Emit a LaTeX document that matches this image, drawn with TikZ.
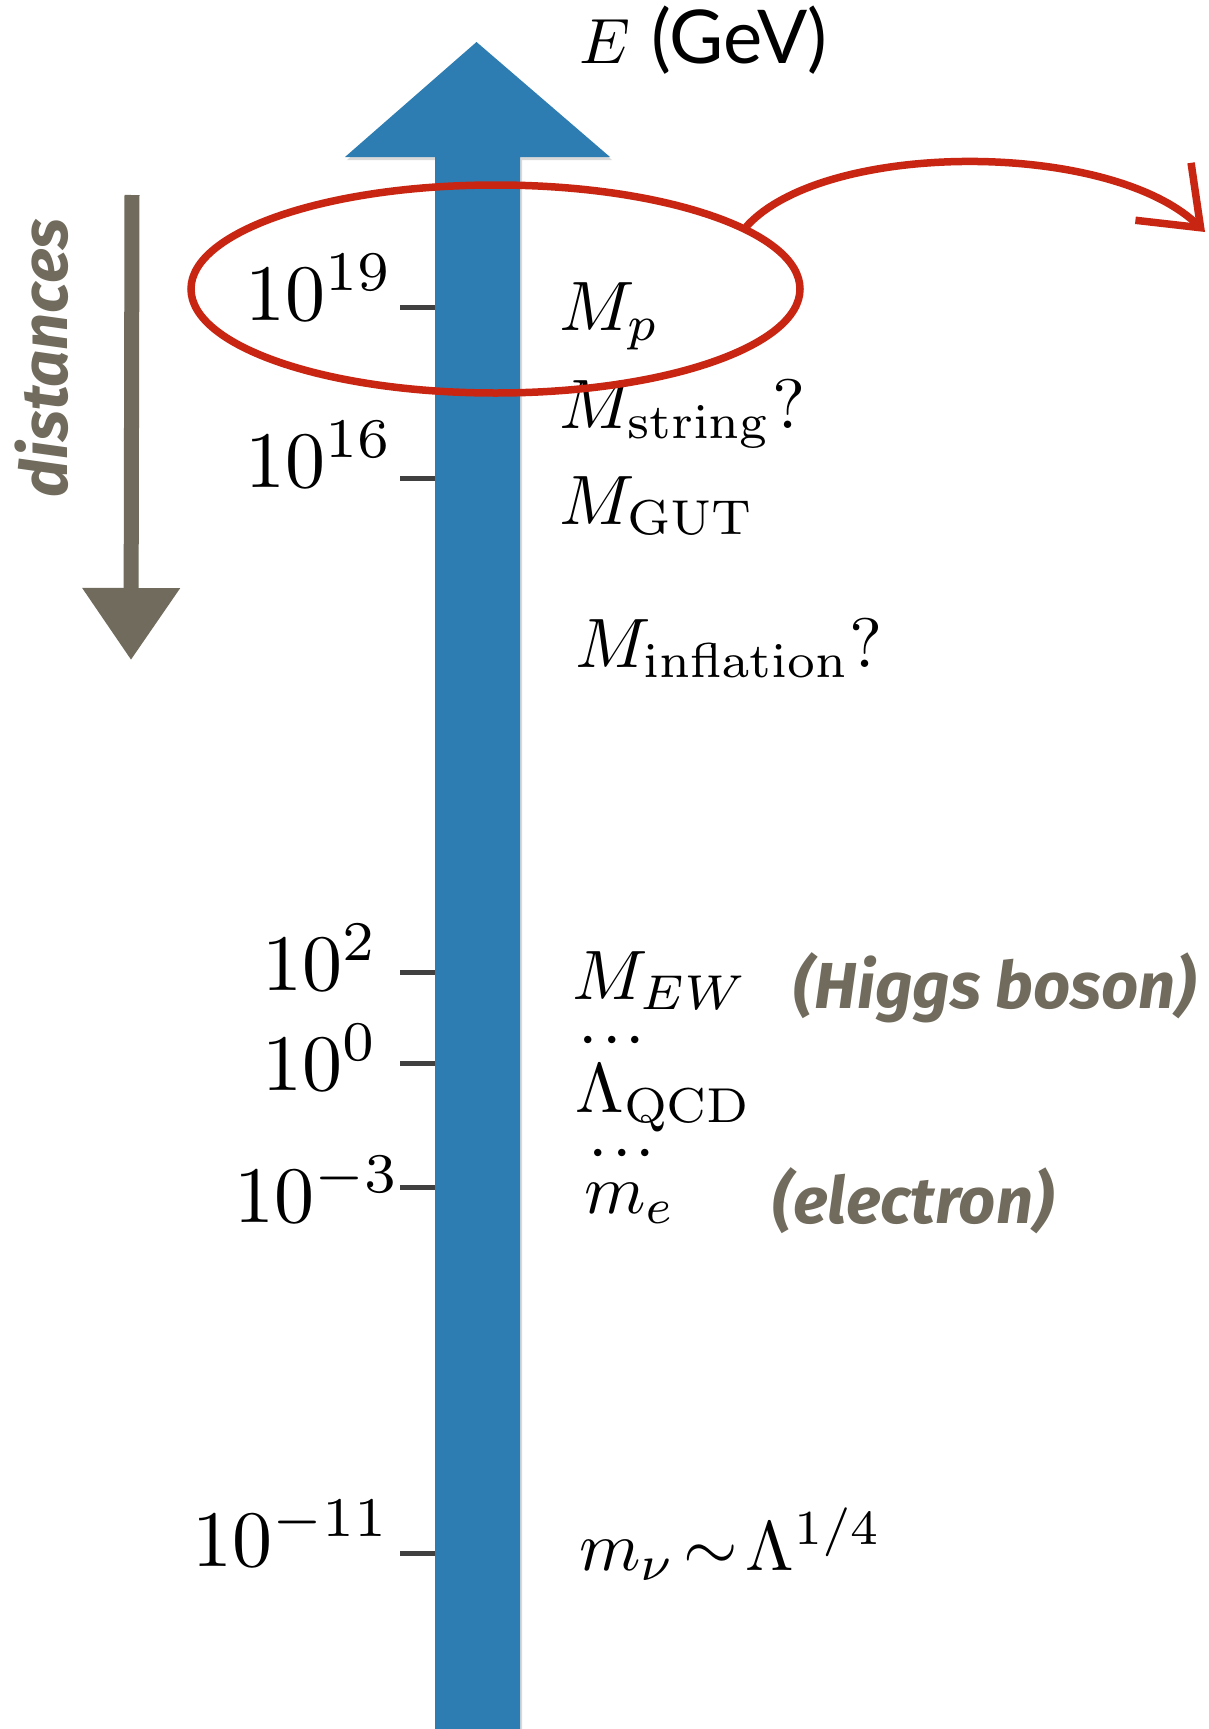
\documentclass[tikz,border=0pt]{standalone}
\usepackage{amsmath,amssymb}
\usepackage[no-math]{fontspec}
\usepackage{xcolor}
\usepackage{tikz}
\usetikzlibrary{arrows.meta,shapes.geometric}

\newfontfamily\handfont{Fira Sans}
\newfontfamily\unitfont{Lato}

\definecolor{axblue}{RGB}{46,125,178}
\definecolor{penred}{RGB}{200,38,18}
\definecolor{taupe}{RGB}{112,107,92}
\definecolor{tickgray}{RGB}{64,64,64}

\begin{document}
\begin{tikzpicture}[
  x=1pt, y=-1pt,
  lev/.style={scale=8.0, inner sep=0pt, anchor=base east},
  scl/.style={scale=7.0, inner sep=0pt, anchor=base west},
  dots/.style={scale=7.0, inner sep=0pt},
  hand/.style={scale=6.5, inner sep=0pt, text=taupe, font=\handfont\bfseries\itshape},
  tk/.style={line width=5pt, draw=tickgray},
  redpen/.style={draw=penred, line width=7.5pt, line cap=round}
]
\fill[white] (0,0) rectangle (1209,1729);
\useasboundingbox (0,0) rectangle (1209,1729);

% ---- energy axis ----
\coordinate (at) at (476.5,42);
\fill[black, opacity=.15] (437,1740) -- (437,160) -- (347,160) -- (478.5,45)
  -- (612,160) -- (522,160) -- (522,1740) -- cycle;
\fill[axblue] (435,1740) -- (435,157) -- (345,157) -- (at) -- (610,157)
  -- (520,157) -- (520,1740) -- cycle;
\node[scale=6.4, inner sep=0pt, anchor=base west] (unit) at (578,63)
  {$E$ {\unitfont\fontsize{11.6}{12}\selectfont(GeV)}};

% ---- ticks ----
\foreach \y in {307,478,972,1063,1187,1553}
  \draw[tk] (400,\y) -- (435,\y);

% ---- energies ----
\node[lev] (e19)  at (395,320)  {$10^{19}$};
\node[lev] (e16)  at (395,487)  {$10^{16}$};
\node[lev] (e2)   at (380,990)  {$10^{2}$};
\node[lev] (e0)   at (380,1090) {$10^{0}$};
\node[lev] (em3)  at (402,1222) {$10^{-3}$};
\node[lev] (em11) at (392,1566) {$10^{-11}$};

% ---- scales ----
\node[scl] (mp)   at (558,330)  {$M_p$};
\node[scl] (mstr) at (558,428)  {$M_{\mathrm{string}}?$};
\node[scl] (mgut) at (558,524)  {$M_{\mathrm{GUT}}$};
\node[scl] (minf) at (574,667)  {$M_{\mathrm{inflation}}?$};
\node[scl] (mew)  at (571,999)  {$M_{EW}$};
\node[dots] (dd1) at (612,1042) {${\cdot}\mkern1mu{\cdot}\mkern1mu{\cdot}$};
\node[scl] (lqcd) at (574,1112) {$\Lambda_{\mathrm{QCD}}$};
\node[dots] (dd2) at (622,1155) {${\cdot}\mkern1mu{\cdot}\mkern1mu{\cdot}$};
\node[scl] (me)   at (583,1213) {$m_e$};
\node[scl] (mnu)  at (578,1570) {$m_\nu \!\sim\! \Lambda^{1/4}$};

\node[hand] (higgs) at (995,988)  {(Higgs boson)};
\node[hand] (elec)  at (913,1201) {(electron)};

% ---- distances ----
\node[hand, rotate=90] (dist) at (42,358) {distances};
\coordinate (dtop) at (132,195);
\coordinate (dbot) at (131,660);
\draw[line width=15pt, draw=taupe, fill=taupe,
      -{Triangle[length=72pt, width=94pt]}] (dtop) -- (dbot);

% ---- Planck scale ----
\node[ellipse, redpen, minimum width=609pt, minimum height=208pt,
      inner sep=0pt] (planck) at (495.5,289) {};
\coordinate (off) at (1205,232);
\draw[redpen, -{Straight Barb[length=52pt, width=80pt]}]
  (planck.14) .. controls (825,140) and (1110,140) .. (off);
\end{tikzpicture}
\end{document}
